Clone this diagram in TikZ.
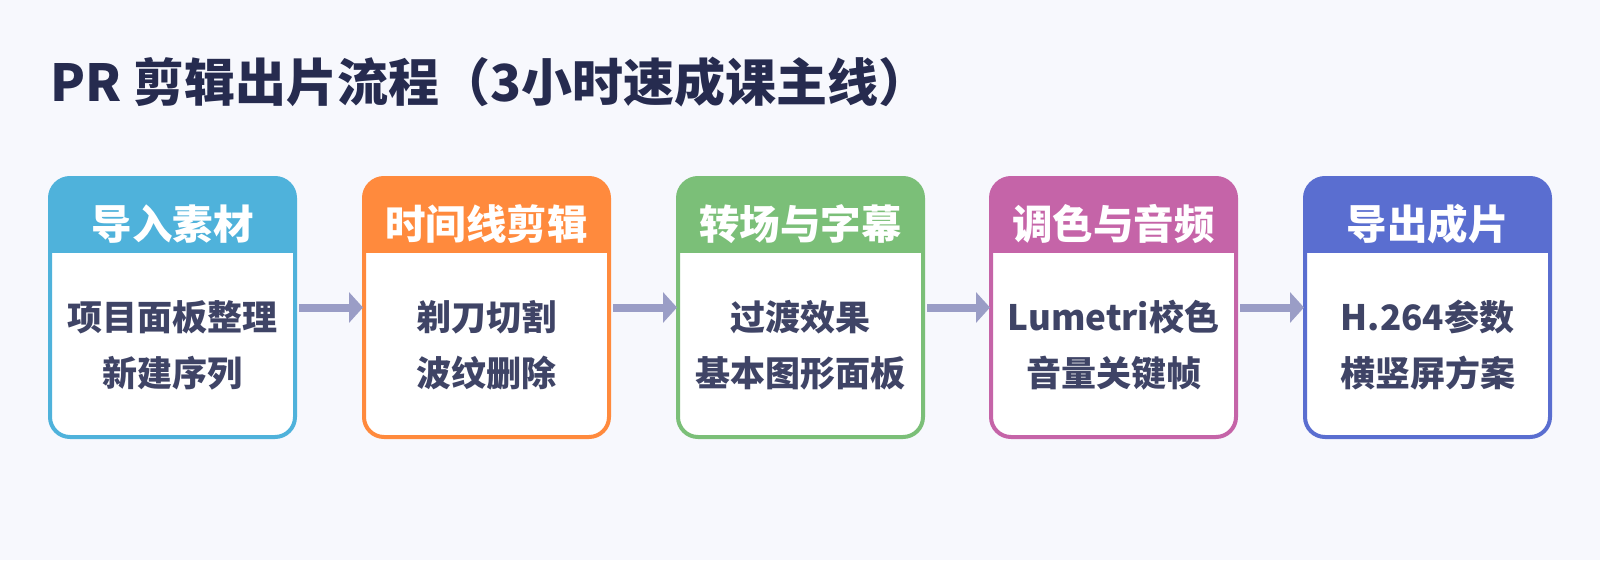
\documentclass[tikz,border=0pt]{standalone}
\usepackage{fontspec}
\setmainfont{Noto Sans CJK SC}
\usetikzlibrary{arrows.meta}
\definecolor{bg}{HTML}{F7F8FD}
\definecolor{titlec}{HTML}{262B4F}
\definecolor{bodyc}{HTML}{3F4466}
\definecolor{arrc}{HTML}{9A9DC6}
\definecolor{cA}{HTML}{4FB2DB}
\definecolor{cB}{HTML}{FF8A3D}
\definecolor{cC}{HTML}{7BBF78}
\definecolor{cD}{HTML}{C564A8}
\definecolor{cE}{HTML}{5A6ED0}
\tikzset{
  stagebox/.style={draw=#1, fill=white, line width=4pt, rounded corners=20pt,
    minimum width=245pt, minimum height=259pt, inner sep=0pt, outer sep=0pt,
    path picture={\fill[#1, sharp corners] ([yshift=5pt,xshift=-5pt]path picture bounding box.north west) rectangle ([yshift=-75pt,xshift=5pt]path picture bounding box.north east);}},
  headtext/.style={text=white, font=\fontsize{40.5}{46}\selectfont\bfseries, inner sep=0pt},
  bodytext/.style={text=bodyc, font=\fontsize{35}{42}\selectfont\bfseries, inner sep=0pt},
  flowarrow/.style={draw=arrc, line width=8pt, -{Triangle[length=14pt,width=30pt]}},
}
\begin{document}
\begin{tikzpicture}[x=1pt,y=-1pt]
\fill[bg] (0,0) rectangle (1600,560);
\useasboundingbox (0,0) rectangle (1600,560);
\node[anchor=base west, inner sep=0pt, text=titlec, font=\fontsize{51}{58}\selectfont\bfseries] (title) at (50,101) {PR 剪辑出片流程（3小时速成课主线）};
% boxes
\node[stagebox=cA] (b1) at (172.5,307.5) {};
\node[stagebox=cB] (b2) at (486.5,307.5) {};
\node[stagebox=cC] (b3) at (800.5,307.5) {};
\node[stagebox=cD] (b4) at (1113.5,307.5) {};
\node[stagebox=cE] (b5) at (1427.5,307.5) {};
% headers
\node[headtext] (h1) at (172.5,224) {导入素材};
\node[headtext] (h2) at (486.5,224) {时间线剪辑};
\node[headtext] (h3) at (800.5,224) {转场与字幕};
\node[headtext] (h4) at (1113.5,224) {调色与音频};
\node[headtext] (h5) at (1427.5,224) {导出成片};
% body lines
\node[bodytext] (t1a) at (172.5,317) {项目面板整理};
\node[bodytext] (t1b) at (172.5,373) {新建序列};
\node[bodytext] (t2a) at (486.5,317) {剃刀切割};
\node[bodytext] (t2b) at (486.5,373) {波纹删除};
\node[bodytext] (t3a) at (800.5,317) {过渡效果};
\node[bodytext] (t3b) at (800.5,373) {基本图形面板};
\node[bodytext] (t4a) at (1113.5,317) {Lumetri校色};
\node[bodytext] (t4b) at (1113.5,373) {音量关键帧};
\node[bodytext] (t5a) at (1427.5,317) {H.264参数};
\node[bodytext] (t5b) at (1427.5,373) {横竖屏方案};
% arrows
\draw[flowarrow] ([xshift=4pt]b1.east) -- ([xshift=-1pt]b2.west);
\draw[flowarrow] ([xshift=4pt]b2.east) -- ([xshift=-1pt]b3.west);
\draw[flowarrow] ([xshift=4pt]b3.east) -- ([xshift=-1pt]b4.west);
\draw[flowarrow] ([xshift=4pt]b4.east) -- ([xshift=-1pt]b5.west);
\end{tikzpicture}
\end{document}
